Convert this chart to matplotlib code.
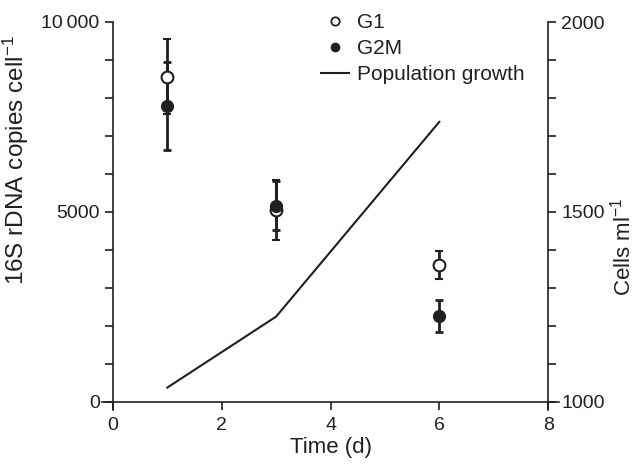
import numpy as np
import matplotlib
matplotlib.use('Agg')
from matplotlib import pyplot as plt
from matplotlib.lines import Line2D
from matplotlib.ticker import MultipleLocator, FixedLocator, FixedFormatter

plt.rcParams['font.family'] = ['Liberation Sans', 'DejaVu Sans']
plt.rcParams['mathtext.fontset'] = 'custom'
plt.rcParams['mathtext.rm'] = 'Liberation Sans'
plt.rcParams['mathtext.it'] = 'Liberation Sans'

# data
days = [1, 3, 6]
g1 = [8560, 5050, 3600]
g1_err = [990, 800, 380]
g2m = [7790, 5160, 2260]
g2m_err = [1150, 650, 430]
pop_days = [1, 3, 6]
pop = [1037, 1224, 1737]

ink = '#231f20'

fig = plt.figure(figsize=(6.44, 4.74), dpi=100)
ax = fig.add_axes([102 / 644, 1 - 410 / 474, 457 / 644, 388 / 474])
ax2 = ax.twinx()

ax.errorbar(days, g1, yerr=g1_err, fmt='o', mfc='white', mec=ink, mew=1.5,
            ms=8.5, ecolor=ink, elinewidth=2, capsize=3, capthick=2,
            color=ink, zorder=3)
ax.errorbar(days, g2m, yerr=g2m_err, fmt='o', mfc=ink, mec=ink,
            ms=8.5, ecolor=ink, elinewidth=2, capsize=3, capthick=2,
            color=ink, zorder=3)
ax2.plot(pop_days, pop, color=ink, lw=1.5)

ax.set_xlim(-0.2, 8.2)
ax.set_ylim(-220, 10000)
ax2.set_ylim(978, 2000)

for a in (ax, ax2):
    a.spines['top'].set_visible(False)
ax.spines['right'].set_visible(False)
ax2.spines['left'].set_visible(False)
ax2.spines['bottom'].set_visible(False)
ax.spines['left'].set_position(('data', 0))
ax.spines['bottom'].set_position(('data', 0))
ax2.spines['right'].set_position(('data', 8))
for s in ('left', 'bottom'):
    ax.spines[s].set_color(ink)
    ax.spines[s].set_linewidth(1.2)
ax2.spines['right'].set_color(ink)
ax2.spines['right'].set_linewidth(1.2)
ax.spines['left'].set_bounds(-220, 10000)
ax.spines['bottom'].set_bounds(-0.2, 8.2)
ax2.spines['right'].set_bounds(978, 2000)

ax.set_xticks([0, 2, 4, 6, 8])
ax.yaxis.set_major_locator(FixedLocator([0, 5000, 10000]))
ax.yaxis.set_major_formatter(FixedFormatter(['0', '5000', '10\u2009000']))
ax.yaxis.set_minor_locator(MultipleLocator(1000))
ax2.yaxis.set_major_locator(FixedLocator([1000, 1500, 2000]))
ax2.yaxis.set_minor_locator(MultipleLocator(100))

for a in (ax, ax2):
    a.tick_params(which='both', direction='out', length=6, width=1.2,
                  colors=ink, labelsize=14)
ax.tick_params(axis='x', pad=5)

ax.set_xlabel('Time (d)', fontsize=16, color=ink, labelpad=2)
ax.set_ylabel('16S rDNA copies cell$^{-1}$', fontsize=17.5, color=ink)
ax.yaxis.set_label_coords(-0.155, 0.645)
ax2.set_ylabel('Cells ml$^{-1}$', fontsize=16, color=ink)
ax2.yaxis.set_label_coords(1.11, 0.42)

handles = [
    Line2D([], [], ls='none', marker='o', ms=6, mfc='white', mec=ink, mew=1.3),
    Line2D([], [], ls='none', marker='o', ms=6, mfc=ink, mec=ink),
    Line2D([], [], color=ink, lw=1.5),
]
labels = ['G1', 'G2M', 'Population growth']
leg = ax2.legend(handles, labels, loc='upper left',
                 bbox_to_anchor=(311 / 644, 1 - 3 / 474),
                 bbox_transform=fig.transFigure, frameon=False,
                 fontsize=15, handlelength=1.3, handletextpad=0.4,
                 labelspacing=0.33, borderpad=0)
for t in leg.get_texts():
    t.set_color(ink)

fig.savefig('out.png', dpi=100)
